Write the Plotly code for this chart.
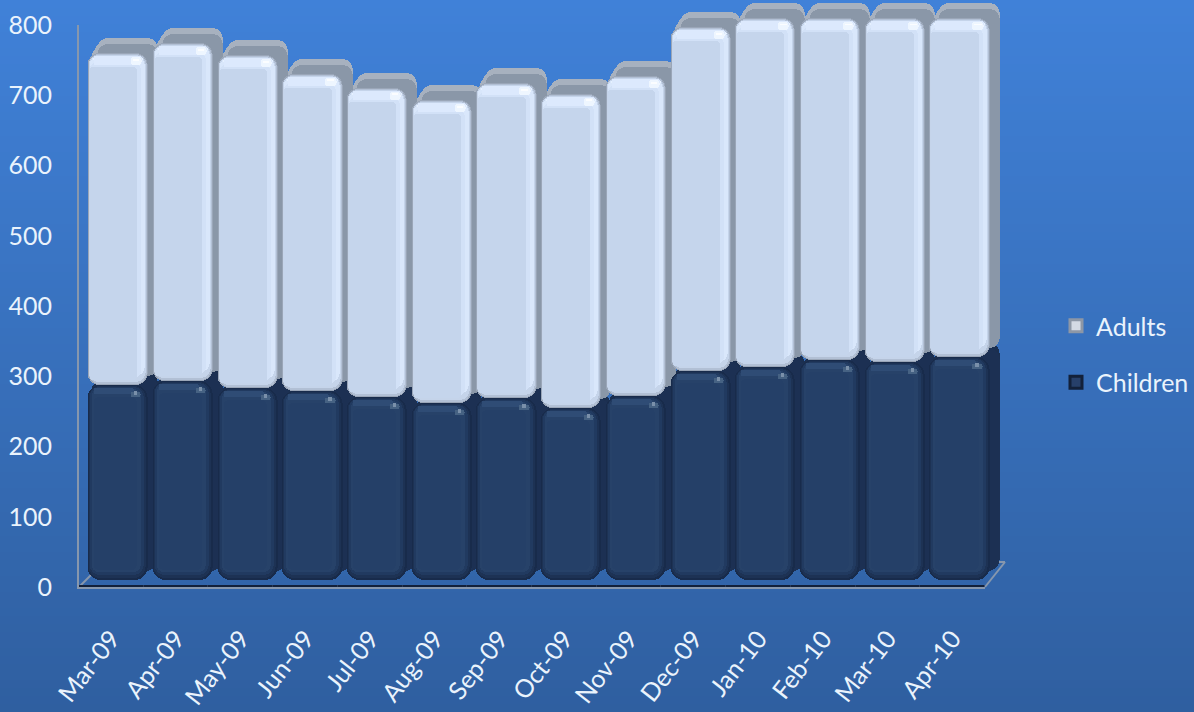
import plotly.graph_objects as go

months = ["Mar-09","Apr-09","May-09","Jun-09","Jul-09","Aug-09","Sep-09","Oct-09","Nov-09","Dec-09","Jan-10","Feb-10","Mar-10","Apr-10"]
children = [278,283,273,269,260,252,259,245,262,297,303,313,310,317]
adults = [472,481,474,452,441,431,448,447,455,490,497,487,490,483]
y_ticks = [0,100,200,300,400,500,600,700,800]

W, H = 1194, 712
PX_Y = 562 / 800          # pixels per value unit
BAND = 64.7               # pixels per category
BAR = 0.93
FONT = "Lato"
TXT = "#eaf3fc"

fig = go.Figure()
layout_axes = {}

def add_plane(n, dx, dy):
    """A hidden axis pair, shifted dx,dy pixels from the front plane of the bars."""
    x0, x1 = 85.65 + dx, 991.45 + dx
    ybot, ytop = 580 + dy, 18 + dy
    sx = str(n)
    layout_axes[f"xaxis{sx}"] = dict(domain=[x0 / W, x1 / W], range=[-0.5, 13.5], type="category",
                                     categoryorder="array", categoryarray=months, visible=False,
                                     anchor=f"y{sx}", fixedrange=True)
    layout_axes[f"yaxis{sx}"] = dict(domain=[1 - ybot / H, 1 - ytop / H], range=[0, 800], visible=False,
                                     anchor=f"x{sx}", fixedrange=True)
    return f"x{sx}", f"y{sx}"

def segment(ax, lows, highs, color, l=0, r=0, t=0, b=0, radius=0):
    """Rounded block between two value lists, inset by pixel amounts."""
    lo = [v + b / PX_Y for v in lows]
    hi = [v - t / PX_Y for v in highs]
    fig.add_trace(go.Bar(x=months, y=[h - a for h, a in zip(hi, lo)], base=lo, xaxis=ax[0], yaxis=ax[1],
                         width=BAR - (l + r) / BAND, offset=-BAR / 2 + l / BAND, showlegend=False,
                         hoverinfo="skip", marker_line_width=0, marker_color=color, marker_cornerradius=radius))

def band(ax, highs, color, depth, **kw):
    """A short block hanging from the top of each stack segment."""
    segment(ax, [h - depth / PX_Y for h in highs], highs, color, **kw)

tops = [c + a for c, a in zip(children, adults)]
zeros = [0] * len(months)

# axis pair carrying the visible ticks and the legend entries
LX0, LX1, LY0, LY1 = 79, 985, 587, 25
layout_axes["xaxis"] = dict(domain=[LX0 / W, LX1 / W], range=[-0.5, 13.5], type="category",
                            categoryorder="array", categoryarray=months, tickangle=-52,
                            tickfont=dict(family=FONT, size=25, color=TXT), showline=True,
                            linecolor="#8797ad", linewidth=2, ticks="outside", ticklen=25,
                            tickcolor="rgba(0,0,0,0)", showgrid=False, anchor="y", fixedrange=True)
layout_axes["yaxis"] = dict(domain=[1 - LY0 / H, 1 - LY1 / H], range=[0, 800], tickvals=y_ticks,
                            tickfont=dict(family=FONT, size=25, color=TXT), showline=True,
                            linecolor="#8797ad", linewidth=2, ticks="outside", ticklen=20,
                            tickcolor="rgba(0,0,0,0)", showgrid=False, zeroline=False, anchor="x", fixedrange=True)
fig.add_trace(go.Bar(x=months, y=zeros, name="Adults", legendgroup="a", hoverinfo="skip", xaxis="x", yaxis="y",
                     marker=dict(color="#d4dae4", line=dict(color="#8d97a6", width=3))))
fig.add_trace(go.Bar(x=months, y=zeros, name="Children", legendgroup="c", hoverinfo="skip", xaxis="x", yaxis="y",
                     marker=dict(color="#27406a", line=dict(color="#13213a", width=3))))

# depth faces
P_top = [add_plane(2, 10, -15), add_plane(3, 7, -11), add_plane(4, 4, -6)]
for ax in P_top:
    segment(ax, zeros, children, "#1b2f50", radius=12)
    segment(ax, children, tops, "#a7b1bf", radius=10)
P_side = add_plane(5, 10, -9)
segment(P_side, zeros, children, "#1c3053", radius=12)
segment(P_side, children, tops, "#8a97a8", radius=10)

# front faces: adults
F = add_plane(6, 0, 0)
segment(F, children, tops, "#9aa6b8", radius=12)
segment(F, children, tops, "#b2c0d5", l=1, r=1, t=1, b=1, radius=11)
segment(F, children, tops, "#c5d4ea", l=1, r=2, t=2, b=3, radius=10)
segment(F, children, tops, "#d9e7fb", l=2, r=3, t=3, b=9, radius=9)
segment(F, children, tops, "#d2e1f7", l=2, r=7, t=10, b=7, radius=6)
segment(F, children, tops, "#c5d5ec", l=2, r=11, t=14, b=5, radius=3)
band(F, tops, "#e6f1ff", 7, l=5, r=4, t=5, radius=3)
band(F, tops, "#dce9fd", 3, l=6, r=6, t=12, radius=1)
band(F, tops, "#eef6ff", 12, l=43, r=6, t=4, radius=4)
band(F, tops, "#fbfdff", 7, l=45, r=8, t=6, radius=3)

# front faces: children
segment(F, zeros, children, "#182b4b", radius=13)
segment(F, zeros, children, "#1d3254", l=1, r=2, t=1, b=2, radius=12)
segment(F, zeros, children, "#213a60", l=2, r=4, t=2, b=5, radius=10)
segment(F, zeros, children, "#274269", l=4, r=7, t=4, b=8, radius=7)
segment(F, zeros, children, "#254068", l=6, r=11, t=12, b=10, radius=5)
band(F, children, "#2f4c75", 3, l=6, r=14, t=9, radius=1)
band(F, children, "#466283", 12, l=43, r=7, t=7, radius=3)
band(F, children, "#7a90aa", 6, l=46, r=10, t=10, radius=2)

# gradient page background and floor
c_top, c_bot = (64, 129, 216), (47, 95, 160)
shapes = []
STEPS = 89
for i in range(STEPS):
    f = i / (STEPS - 1)
    col = tuple(round(a + (b - a) * f) for a, b in zip(c_top, c_bot))
    shapes.append(dict(type="rect", xref="paper", yref="paper", x0=0, x1=1,
                       y0=1 - (i + 1) / STEPS - 0.001, y1=1 - i / STEPS, layer="below",
                       fillcolor=f"rgb{col}", line_width=0))
floor = [(79, 587, 92, 574), (985, 587, 1005, 562), (975, 562, 1005, 562)]
for x0, y0, x1, y1 in floor:
    shapes.append(dict(type="line", xref="paper", yref="paper", x0=x0 / W, x1=x1 / W,
                       y0=1 - y0 / H, y1=1 - y1 / H, line=dict(color="#8797ad", width=2), layer="below"))

fig.update_layout(
    width=W, height=H,
    barmode="overlay", bargap=0,
    margin=dict(l=0, r=0, t=0, b=0, autoexpand=False),
    paper_bgcolor="#3a72bf", plot_bgcolor="rgba(0,0,0,0)",
    shapes=shapes,
    legend=dict(x=1056 / W, y=1 - 303 / H, xanchor="left", yanchor="top", traceorder="grouped",
                tracegroupgap=21, bgcolor="rgba(0,0,0,0)",
                font=dict(family=FONT, size=25, color=TXT), itemwidth=30),
    **layout_axes,
)
fig.write_html("out.html", config={"displayModeBar": False},
               post_script="document.body.style.margin='0';document.body.style.overflow='hidden';")
